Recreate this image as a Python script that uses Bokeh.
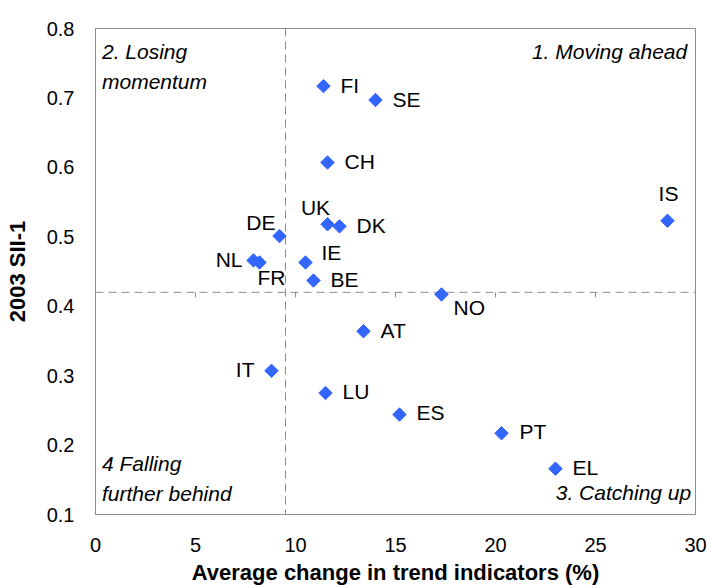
import numpy as np
from bokeh.plotting import figure
from bokeh.models import ColumnDataSource, FixedTicker, Label, Range1d, Span
from bokeh.core.properties import value
from bokeh.embed import file_html
from bokeh.resources import INLINE

# ---- data ----
countries = ["FI", "SE", "CH", "UK", "DK", "DE", "NL", "FR", "IE", "BE",
             "IS", "NO", "AT", "IT", "LU", "ES", "PT", "EL"]
trend_change = [11.4, 14.0, 11.6, 11.6, 12.2, 9.2, 7.9, 8.2, 10.5, 10.9,
                28.6, 17.3, 13.4, 8.8, 11.5, 15.2, 20.3, 23.0]
sii_2003 = [0.717, 0.697, 0.607, 0.518, 0.515, 0.501, 0.466, 0.463, 0.463, 0.437,
            0.523, 0.417, 0.364, 0.307, 0.275, 0.244, 0.217, 0.166]

x_ticks = [0, 5, 10, 15, 20, 25, 30]
y_ticks = [0.1, 0.2, 0.3, 0.4, 0.5, 0.6, 0.7, 0.8]
y_tick_labels = ["0.1", "0.2", "0.3", "0.4", "0.5", "0.6", "0.7", "0.8"]
x_cross = 9.5
y_cross = 0.42

x_title = "Average change in trend indicators (%)"
y_title = "2003 SII-1"

# ---- label placement (screen px offsets, alignment) ----
label_layout = {
    "FI": (17, -1, "left"), "SE": (17, -1, "left"), "CH": (17, -1, "left"),
    "UK": (-12, -17, "center"), "DK": (17, -1, "left"), "DE": (-4, -14, "right"),
    "NL": (-11, -1, "right"), "FR": (-2, 15, "left"), "IE": (16, -10, "left"),
    "BE": (17, -1, "left"), "IS": (1, -27, "center"), "NO": (12, 13, "left"),
    "AT": (17, -1, "left"), "IT": (-17, -1, "right"), "LU": (17, -2, "left"),
    "ES": (17, -2, "left"), "PT": (18, -2, "left"), "EL": (17, -1, "left"),
}

FONT = "Liberation Sans"
GRAY = "#8c8c8c"

src = ColumnDataSource(dict(
    x=trend_change, y=sii_2003, label=countries,
    dx=[label_layout[c][0] for c in countries],
    dy=[label_layout[c][1] for c in countries],
    align=[label_layout[c][2] for c in countries],
))

p = figure(frame_width=600, frame_height=486,
           min_border_left=95, min_border_right=12, min_border_top=28, min_border_bottom=71,
           x_range=Range1d(0, 30), y_range=Range1d(0.1, 0.8),
           output_backend="svg", toolbar_location=None)
p.background_fill_color = "white"
p.border_fill_color = "white"
p.outline_line_color = GRAY
p.outline_line_width = 1
p.xgrid.visible = False
p.ygrid.visible = False

# axes
for ax in (p.xaxis[0], p.yaxis[0]):
    ax.axis_line_color = GRAY
    ax.major_tick_line_color = None
    ax.minor_tick_line_color = None
    ax.major_label_text_font = FONT
    ax.major_label_text_font_size = "20px"
    ax.major_label_text_color = "black"
    ax.axis_label_text_font = FONT
    ax.axis_label_text_font_size = "22px"
    ax.axis_label_text_font_style = "bold"
    ax.axis_label_text_color = "black"

p.xaxis.ticker = FixedTicker(ticks=x_ticks)
p.yaxis.ticker = FixedTicker(ticks=y_ticks)
p.yaxis.major_label_overrides = {t: s for t, s in zip(y_ticks, y_tick_labels)}
p.yaxis.major_label_standoff = 15
p.xaxis.major_label_standoff = 17
p.xaxis.axis_label = x_title
p.yaxis.axis_label = y_title
p.xaxis.axis_label_standoff = 5
p.yaxis.axis_label_standoff = 14

# quadrant dividing lines (crossing axes)
hline = Span(location=y_cross, dimension="width", line_color=GRAY,
             line_dash="8 5", line_width=1, level="underlay")
vline = Span(location=x_cross, dimension="height", line_color=GRAY,
             line_dash="8 5", line_width=1, level="underlay")
p.add_layout(hline)
p.add_layout(vline)
p.ray(x=x_ticks[1:-1], y=[y_cross] * (len(x_ticks) - 2), length=5,
      length_units="screen", angle=-np.pi / 2, line_color=GRAY, line_width=1)

# points
p.scatter(x="x", y="y", source=src, marker="square", size=9.5, angle=np.pi / 4,
          fill_color="#3366FF", line_color="#3366FF")

# point labels
p.text(x="x", y="y", text="label", source=src, x_offset="dx", y_offset="dy",
       text_align="align", text_baseline="alphabetic",
       text_font=value(FONT), text_font_size="21px", text_color="black")

# quadrant annotations
quad = [
    ("2. Losing", 0, 0.8, 6.5, -23.3, "left"),
    ("momentum", 0, 0.8, 6.5, -53.3, "left"),
    ("1. Moving ahead", 30, 0.8, -8.3, -23.3, "right"),
    ("4 Falling", 0, 0.1, 6.5, 51.5, "left"),
    ("further behind", 0, 0.1, 6.5, 21.5, "left"),
    ("3. Catching up", 30, 0.1, -4.3, 22.2, "right"),
]
for txt, qx, qy, ox, oy, al in quad:
    p.add_layout(Label(x=qx, y=qy, x_offset=ox, y_offset=oy, text=txt,
                       text_align=al, text_baseline="alphabetic",
                       text_font=FONT, text_font_size="21px",
                       text_font_style="italic", text_color="black"))

open("out.html", "w").write(file_html(p, INLINE))
